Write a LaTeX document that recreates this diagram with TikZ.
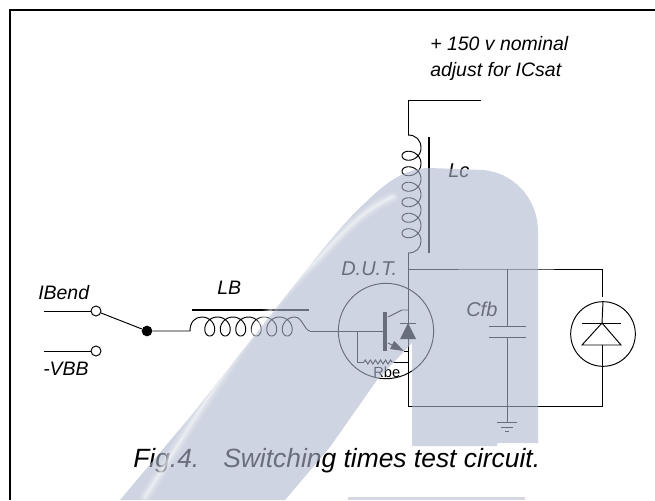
\documentclass[tikz,border=0pt]{standalone}
\usepackage{fontspec}
\setmainfont{Liberation Sans}
\usetikzlibrary{arrows.meta,decorations.pathmorphing}
\tikzset{
  wire/.style={line width=0.72pt,black},
  thick core/.style={line width=2pt,black},
  frameline/.style={line width=2pt,black},
  terminal/.style={circle,draw=black,fill=white,line width=0.72pt,minimum size=7.5pt,inner sep=0pt},
  dot/.style={circle,fill=black,minimum size=8pt,inner sep=0pt},
  lab/.style={anchor=base west,inner sep=0pt,font=\fontsize{15}{18}\selectfont\itshape},
  small lab/.style={anchor=base west,inner sep=0pt,font=\fontsize{14.6}{17}\selectfont\itshape},
  cap lab/.style={anchor=base west,inner sep=0pt,font=\fontsize{19.8}{22}\selectfont\itshape},
  rbe lab/.style={anchor=base west,inner sep=0pt,font=\fontsize{11}{13}\selectfont},
  wmark/.style={fill={rgb,1:red,0.69;green,0.72;blue,0.81},fill opacity=0.6,draw=none}
}
\begin{document}
\begin{tikzpicture}[x=0.75pt,y=-0.75pt]
\useasboundingbox (0,0) rectangle (655,500);
\fill[white] (0,0) rectangle (655,500);
% frame
\coordinate (fA) at (10,500); \coordinate (fB) at (10,10); \coordinate (fC) at (655,10);
\draw[frameline,line join=miter] (fA) -- (fB) -- (fC);
% coordinates
\coordinate (s1) at (481,100); \coordinate (s2) at (408,100); \coordinate (s3) at (408,135);
\coordinate (lcEnd) at (408,253); \coordinate (bot) at (408,406); \coordinate (top) at (408,269);
\coordinate (capTopJ) at (507,269); \coordinate (capBotJ) at (507,406);
\coordinate (r1) at (602,269); \coordinate (r2) at (602,406);
% supply + collector coil
\draw[wire] (s1) -- (s2) -- (s3);
\draw[wire] (s3) .. controls (416,135) and (421,140) .. (421.0,148)
  -- plot[domain=0:2160,samples=300] ({411.5+9.5*cos(\x)},{148+(15.5/360)*\x+8*sin(\x)})
  .. controls (421,248) and (416,253) .. (lcEnd);
\coordinate (lcA) at (429,137); \coordinate (lcB) at (429,253);
\draw[thick core] (lcA) -- (lcB);
\draw[wire] (lcEnd) -- (bot) -- (r2) -- (602,345);
\draw[wire] (top) -- (capTopJ) -- (r1) -- (602,297);
% capacitor
\coordinate (c1) at (507,326); \coordinate (c2) at (507,337);
\draw[wire] (capTopJ) -- (c1);
\draw[wire] (c2) -- (capBotJ);
\draw[wire] (489,326) -- (526,326);
\draw[wire] (489,337) -- (526,337);
% ground
\coordinate (g0) at (507,422);
\draw[wire] (capBotJ) -- (g0);
\draw[wire] (497,422) -- (517,422);
\draw[wire] (501,427) -- (513,427);
\draw[wire] (505,431) -- (509,431);
% free-wheel diode
\node[circle,draw=black,line width=0.72pt,minimum size=48.5pt,inner sep=0pt] (fw) at (603,334) {};
\coordinate (fwA) at (602,323);
\draw[wire] (fw.north) -- (fwA);
\draw[wire] (582,323) -- (621,323);
\draw[wire,line join=miter] (fwA) -- (621,345) -- (582,345) -- cycle;
% DUT
\node[circle,draw=black,line width=0.72pt,minimum size=71.5pt,inner sep=0pt] (dut) at (386,331) {};
\coordinate (bB1) at (385,312); \coordinate (bB2) at (385,351);
\draw[line width=3pt,black] (bB1) -- (bB2);
\coordinate (col1) at (388,317); \coordinate (col2) at (402,310); \coordinate (col3) at (408,310);
\draw[wire] (col1) -- (col2) -- (col3);
\coordinate (em1) at (388,343); \coordinate (em2) at (404,351); \coordinate (em3) at (408,351);
\draw[wire,-{Triangle[length=10pt,width=6.5pt]}] (em1) -- (em2);
\draw[wire] (em2) -- (em3);
\fill[black] (408,323) -- (416,339) -- (400,339) -- cycle;
\draw[wire] (400,323) -- (416,323);
% Rbe
\coordinate (rb0) at (357,331); \coordinate (rb1) at (357,362); \coordinate (rb2) at (364,362);
\coordinate (rb3) at (394,362); \coordinate (rb4) at (408,362);
\draw[wire] (rb0) -- (rb1) -- (rb2);
\draw[wire,decorate,decoration={zigzag,segment length=3.8pt,amplitude=1.5pt}] (rb2) -- (rb3);
\draw[wire] (rb3) -- (rb4);
% base inductor and switch
\node[terminal] (t1) at (96,311) {};
\node[terminal] (t2) at (96,351) {};
\coordinate (t1L) at (44,311); \coordinate (t2L) at (44,351);
\draw[wire] (t1L) -- (t1); \draw[wire] (t2L) -- (t2);
\node[dot] (j) at (147,331) {};
\draw[wire] (t1) -- (j);
\coordinate (lbS) at (190,331); \coordinate (lbE) at (310,331);
\draw[wire] (j) -- (lbS) .. controls (190,322) and (195,317) .. (202,317)
  -- plot[domain=0:2160,samples=300] ({202+(15.5/360)*\x+8.5*sin(\x)},{326.5-9.5*cos(\x)})
  .. controls (302,317) and (305,331) .. (lbE);
\draw[wire] (lbE) -- (383,331);
\coordinate (lbA) at (192,310); \coordinate (lbB) at (309,310);
\draw[thick core] (lbA) -- (lbB);
% labels
\node[small lab] (v1) at (430,50) {+ 150 v nominal};
\node[small lab] (v2) at (430,76) {adjust for ICsat};
\node[lab] (lc) at (448,177) {Lc};
\node[lab] (dutl) at (341,275) {D.U.T.};
\node[lab] (cfb) at (466,316) {Cfb};
\node[small lab] (ib) at (38,299) {IBend};
\node[small lab] (lb) at (217,294) {LB};
\node[small lab] (vbb) at (43,375) {-VBB};
\node[rbe lab] (rbe) at (373,377) {Rbe};
\node[cap lab] (caption) at (133,467) {Fig.4.\hspace{18pt}Switching times test circuit.};
% watermark overlay
\begin{scope}
\clip (0,0) rectangle (655,500);
\path[wmark] (120,500) -- (190,417) -- (277,307)
  .. controls (300,278) and (340,225) .. (365,203)
  .. controls (385,183) and (405,168) .. (430,168)
  -- (483,170) .. controls (510,172) and (538,195) .. (538,232)
  -- (538,443) -- (497,443) -- (497,446) -- (412,446) -- (412,343)
  -- (377,380) -- (330,447) -- (285,500) -- cycle;
\path[fill={rgb,1:red,0.72;green,0.74;blue,0.80},fill opacity=0.6] (348,497) -- (525,497) -- (525,500) -- (348,500) -- cycle;
\foreach \w/\o in {9/0.08,7/0.1,5/0.14,3/0.2,1.5/0.25}
  \draw[white,line width=\w pt,opacity=\o,line cap=round]
   (145,497) -- (200,410) -- (240,350) .. controls (265,315) and (290,285) .. (317,260)
   .. controls (340,235) and (365,208) .. (393,197);
\end{scope}
\end{tikzpicture}
\end{document}
